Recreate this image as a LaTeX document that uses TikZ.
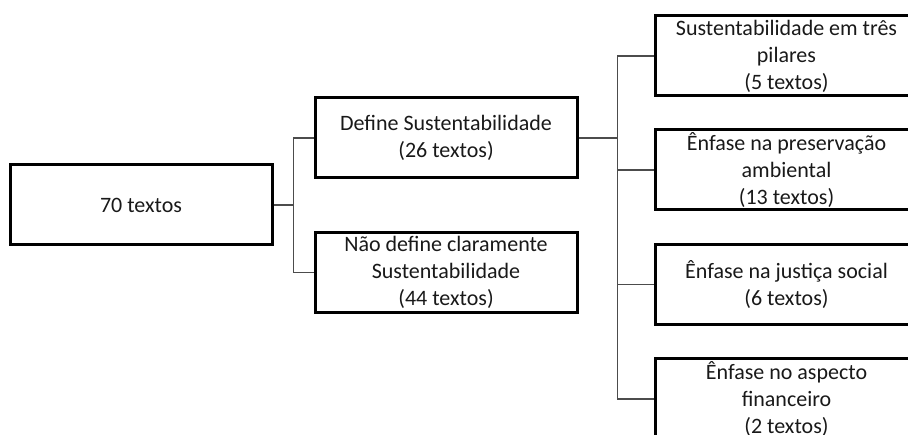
\documentclass[tikz,border=0pt]{standalone}
\usepackage{fontspec}
\setmainfont{Carlito}
\tikzset{
  box/.style={draw=black, line width=3pt, minimum width=262pt, minimum height=80pt, inner sep=0pt, align=center, font=\fontsize{22}{27}\selectfont, text=black!90},
  link/.style={draw=black!70, line width=1.2pt}
}
\begin{document}
\begin{tikzpicture}[x=1pt,y=-1pt]
\useasboundingbox (0,0) rectangle (908,435);
\clip (0,0) rectangle (908,435);
\node[box] (A) at (141,205) {70 textos};
\node[box] (B) at (446,138) {Define Sustentabilidade\\(26 textos)};
\node[box] (C) at (446,272.5) {Não define claramente\\Sustentabilidade\\(44 textos)};
\node[box] (D1) at (786.5,56) {Sustentabilidade em três\\pilares\\(5 textos)};
\node[box] (D2) at (786.5,170) {Ênfase na preservação\\ambiental\\(13 textos)};
\node[box] (D3) at (786.5,284.5) {Ênfase na justiça social\\(6 textos)};
\node[box] (D4) at (786.5,399) {Ênfase no aspecto\\financeiro\\(2 textos)};
\coordinate (J1) at ([xshift=20pt]A.east);
\coordinate (J2) at ([xshift=39pt]B.east);
\draw[link] (A.east) -- (J1);
\draw[link] (J1) |- (B.west);
\draw[link] (J1) |- (C.west);
\draw[link] (B.east) -- (J2);
\draw[link] (J2) |- (D1.west);
\draw[link] (J2) |- (D2.west);
\draw[link] (J2) |- (D3.west);
\draw[link] (J2) |- (D4.west);
\end{tikzpicture}
\end{document}
